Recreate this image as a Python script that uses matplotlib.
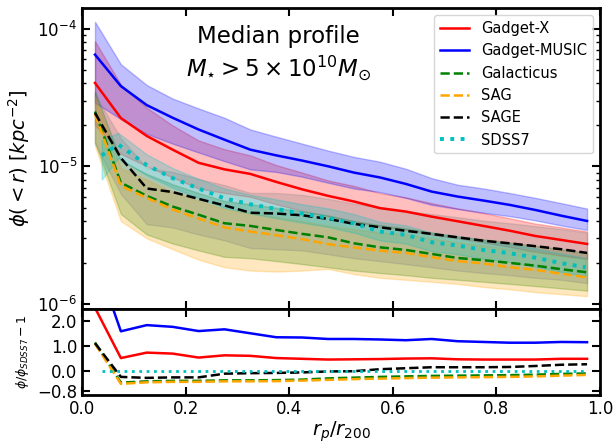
import numpy as np
import matplotlib
matplotlib.use("Agg")
import matplotlib.pyplot as plt

# bin centres in r_p / r_200
rp = [0.025, 0.075, 0.125, 0.175, 0.225, 0.275, 0.325, 0.375, 0.425, 0.475,
      0.525, 0.575, 0.625, 0.675, 0.725, 0.775, 0.825, 0.875, 0.925, 0.975]
rp_sdss = [0.038, 0.07, 0.125, 0.175, 0.225, 0.275, 0.325, 0.375, 0.425, 0.475,
           0.525, 0.575, 0.625, 0.675, 0.725, 0.775, 0.825, 0.875, 0.925, 0.972]

# median profiles [kpc^-2]
gx_med = [4.03e-5, 2.24e-5, 1.66e-5, 1.32e-5, 1.06e-5, 9.5e-6, 8.8e-6, 7.7e-6, 6.8e-6, 6.1e-6,
          5.55e-6, 4.97e-6, 4.69e-6, 4.31e-6, 3.99e-6, 3.69e-6, 3.41e-6, 3.12e-6, 2.92e-6, 2.73e-6]
gx_hi = [8.1e-5, 3.92e-5, 2.66e-5, 1.98e-5, 1.54e-5, 1.33e-5, 1.2e-5, 1.02e-5, 9.0e-6, 7.9e-6,
         7.2e-6, 6.4e-6, 5.95e-6, 5.4e-6, 4.95e-6, 4.58e-6, 4.2e-6, 3.84e-6, 3.6e-6, 3.36e-6]
gx_lo = [2.0e-5, 1.23e-5, 1.0e-5, 8.3e-6, 6.9e-6, 6.4e-6, 6.0e-6, 5.3e-6, 4.75e-6, 4.33e-6,
         4.0e-6, 3.63e-6, 3.47e-6, 3.19e-6, 3.0e-6, 2.8e-6, 2.6e-6, 2.4e-6, 2.25e-6, 2.13e-6]

gm_med = [6.47e-5, 3.82e-5, 2.78e-5, 2.25e-5, 1.85e-5, 1.56e-5, 1.32e-5, 1.2e-5, 1.1e-5, 1.0e-5,
          9.0e-6, 8.3e-6, 7.45e-6, 6.55e-6, 6.03e-6, 5.64e-6, 5.25e-6, 4.82e-6, 4.38e-6, 4.01e-6]
gm_hi = [1.12e-4, 5.5e-5, 3.89e-5, 3.1e-5, 2.63e-5, 2.25e-5, 1.85e-5, 1.64e-5, 1.46e-5, 1.3e-5,
         1.17e-5, 1.08e-5, 9.6e-6, 8.2e-6, 7.35e-6, 6.9e-6, 6.4e-6, 5.9e-6, 5.4e-6, 4.93e-6]
gm_lo = [2.9e-5, 2.2e-5, 1.72e-5, 1.46e-5, 1.26e-5, 1.09e-5, 9.5e-6, 9.1e-6, 8.4e-6, 7.6e-6,
         6.9e-6, 6.5e-6, 5.9e-6, 5.25e-6, 4.9e-6, 4.6e-6, 4.35e-6, 4.05e-6, 3.72e-6, 3.45e-6]

gal_med = [2.5e-5, 7.6e-6, 6.1e-6, 5.1e-6, 4.45e-6, 3.86e-6, 3.69e-6, 3.45e-6, 3.23e-6, 3.05e-6,
           2.76e-6, 2.58e-6, 2.47e-6, 2.31e-6, 2.16e-6, 2.08e-6, 1.99e-6, 1.9e-6, 1.79e-6, 1.7e-6]
gal_hi = [3.5e-5, 1.1e-5, 8.8e-6, 7.4e-6, 6.4e-6, 5.6e-6, 5.3e-6, 5.0e-6, 4.7e-6, 4.4e-6,
          4.0e-6, 3.75e-6, 3.55e-6, 3.3e-6, 3.1e-6, 2.95e-6, 2.8e-6, 2.65e-6, 2.5e-6, 2.35e-6]
gal_lo = [1.5e-5, 4.5e-6, 3.2e-6, 2.75e-6, 2.45e-6, 2.2e-6, 2.15e-6, 2.05e-6, 1.95e-6, 1.85e-6,
          1.75e-6, 1.68e-6, 1.62e-6, 1.55e-6, 1.5e-6, 1.45e-6, 1.4e-6, 1.35e-6, 1.3e-6, 1.25e-6]

sag_med = [2.4e-5, 7.2e-6, 5.9e-6, 4.85e-6, 4.18e-6, 3.6e-6, 3.36e-6, 3.16e-6, 2.96e-6, 2.72e-6,
           2.58e-6, 2.44e-6, 2.35e-6, 2.19e-6, 2.05e-6, 1.97e-6, 1.85e-6, 1.77e-6, 1.66e-6, 1.56e-6]
sag_hi = [3.2e-5, 9.7e-6, 8.0e-6, 6.5e-6, 5.6e-6, 4.9e-6, 4.55e-6, 4.3e-6, 4.0e-6, 3.7e-6,
          3.5e-6, 3.3e-6, 3.2e-6, 3.0e-6, 2.8e-6, 2.67e-6, 2.5e-6, 2.4e-6, 2.25e-6, 2.1e-6]
sag_lo = [1.4e-5, 4.0e-6, 3.0e-6, 2.5e-6, 2.1e-6, 1.85e-6, 1.75e-6, 1.72e-6, 1.75e-6, 1.8e-6,
          1.65e-6, 1.55e-6, 1.5e-6, 1.45e-6, 1.4e-6, 1.33e-6, 1.28e-6, 1.22e-6, 1.18e-6, 1.14e-6]

sage_med = [2.44e-5, 1.15e-5, 6.9e-6, 6.5e-6, 5.8e-6, 5.2e-6, 4.6e-6, 4.54e-6, 4.41e-6, 4.15e-6,
            3.82e-6, 3.61e-6, 3.4e-6, 3.23e-6, 3.05e-6, 2.88e-6, 2.76e-6, 2.63e-6, 2.5e-6, 2.35e-6]
sage_hi = [3.3e-5, 1.6e-5, 9.7e-6, 9.1e-6, 8.1e-6, 7.3e-6, 6.4e-6, 6.4e-6, 6.2e-6, 5.8e-6,
           5.35e-6, 5.05e-6, 4.76e-6, 4.5e-6, 4.27e-6, 4.03e-6, 3.86e-6, 3.68e-6, 3.5e-6, 3.3e-6]
sage_lo = [1.46e-5, 6.3e-6, 3.8e-6, 3.6e-6, 3.2e-6, 2.9e-6, 2.55e-6, 2.5e-6, 2.45e-6, 2.3e-6,
           2.15e-6, 2.05e-6, 1.95e-6, 1.85e-6, 1.75e-6, 1.68e-6, 1.62e-6, 1.55e-6, 1.5e-6, 1.42e-6]

sdss_med = [1.2e-5, 1.44e-5, 1.02e-5, 8.2e-6, 6.9e-6, 5.85e-6, 5.3e-6, 4.9e-6, 4.54e-6, 4.22e-6,
            3.85e-6, 3.36e-6, 3.18e-6, 2.81e-6, 2.66e-6, 2.47e-6, 2.34e-6, 2.17e-6, 1.98e-6, 1.85e-6]
sdss_hi = [1.55e-5, 1.75e-5, 1.22e-5, 9.7e-6, 8.1e-6, 6.9e-6, 6.2e-6, 5.75e-6, 5.3e-6, 4.95e-6,
           4.5e-6, 3.95e-6, 3.72e-6, 3.3e-6, 3.1e-6, 2.9e-6, 2.73e-6, 2.53e-6, 2.32e-6, 2.16e-6]
sdss_lo = [8.0e-6, 1.15e-5, 8.6e-6, 7.0e-6, 5.9e-6, 5.0e-6, 4.55e-6, 4.2e-6, 3.9e-6, 3.63e-6,
           3.3e-6, 2.9e-6, 2.75e-6, 2.42e-6, 2.3e-6, 2.13e-6, 2.02e-6, 1.87e-6, 1.71e-6, 1.6e-6]

# phi / phi_SDSS7 - 1
gx_rat = [2.55, 0.52, 0.74, 0.70, 0.54, 0.63, 0.61, 0.52, 0.49, 0.46,
          0.47, 0.48, 0.50, 0.51, 0.47, 0.46, 0.46, 0.46, 0.49, 0.49]
gm_rat = [4.6, 1.60, 1.85, 1.78, 1.61, 1.68, 1.52, 1.36, 1.35, 1.29,
          1.29, 1.27, 1.24, 1.29, 1.20, 1.17, 1.14, 1.14, 1.17, 1.16]
gal_rat = [1.15, -0.47, -0.42, -0.40, -0.40, -0.38, -0.38, -0.37, -0.35, -0.30,
           -0.27, -0.24, -0.22, -0.20, -0.19, -0.18, -0.17, -0.15, -0.12, -0.10]
sag_rat = [1.10, -0.52, -0.46, -0.44, -0.44, -0.42, -0.42, -0.41, -0.39, -0.36,
           -0.33, -0.31, -0.29, -0.27, -0.26, -0.25, -0.24, -0.22, -0.19, -0.16]
sage_rat = [1.12, -0.24, -0.28, -0.26, -0.26, -0.11, -0.09, -0.08, -0.06, -0.02,
            -0.01, 0.07, 0.11, 0.15, 0.15, 0.15, 0.16, 0.20, 0.25, 0.27]
sdss_rat = np.array(sdss_med) / np.array(sdss_med) - 1

fig = plt.figure(figsize=(6.14, 4.45), dpi=100)
ax = fig.add_axes([0.1336, 0.3056, 0.8436, 0.6764])
ax2 = fig.add_axes([0.1336, 0.1124, 0.8436, 0.1932], sharex=ax)

al = 0.25
ax.fill_between(rp, gx_lo, gx_hi, color='r', alpha=al)
ax.fill_between(rp, gm_lo, gm_hi, color='b', alpha=al)
ax.fill_between(rp, gal_lo, gal_hi, color='g', alpha=al)
ax.fill_between(rp, sag_lo, sag_hi, color='orange', alpha=al)
ax.fill_between(rp, sage_lo, sage_hi, color='gray', alpha=al)
ax.fill_between(rp_sdss, sdss_lo, sdss_hi, color='c', alpha=al)

ax.plot(rp, gx_med, 'r-', lw=1.8, label='Gadget-X')
ax.plot(rp, gm_med, 'b-', lw=1.8, label='Gadget-MUSIC')
ax.plot(rp, gal_med, 'g--', lw=1.8, label='Galacticus')
ax.plot(rp, sag_med, '--', color='orange', lw=1.8, label='SAG')
ax.plot(rp, sage_med, 'k--', lw=1.8, label='SAGE')
ax.plot(rp_sdss, sdss_med, 'c:', lw=2.8, label='SDSS7')

ax.set_yscale('log')
ax.set_ylim(9.2e-7, 1.41e-4)
ax.set_xlim(0, 1)
ax.set_ylabel(r'$\phi(<r)\ [kpc^{-2}]$', fontsize=14)
ax.legend(loc='upper right', fontsize=10.5)
ax.text(0.38, 0.905, 'Median profile', transform=ax.transAxes, ha='center', va='center', fontsize=16.5)
ax.text(0.38, 0.80, r'$M_{\star} > 5\times10^{10}M_{\odot}$', transform=ax.transAxes,
        ha='center', va='center', fontsize=16.5)
plt.setp(ax.get_xticklabels(), visible=False)

ax2.plot(rp, gx_rat, 'r-', lw=1.8)
ax2.plot(rp, gm_rat, 'b-', lw=1.8)
ax2.plot(rp, gal_rat, 'g--', lw=1.8)
ax2.plot(rp, sag_rat, '--', color='orange', lw=1.8)
ax2.plot(rp, sage_rat, 'k--', lw=1.8)
ax2.plot(rp_sdss, sdss_rat, 'c:', lw=2)
ax2.set_ylim(-0.97, 2.5)
ax2.set_yticks([-0.8, 0.0, 1.0, 2.0])
ax2.set_yticklabels(['−0.8', '0.0', '1.0', '2.0'])
ax2.set_xticks([0.0, 0.2, 0.4, 0.6, 0.8, 1.0])
ax2.set_xlabel(r'$r_p/r_{200}$', fontsize=14, labelpad=1)
ax2.set_ylabel(r'$\phi/\phi_{SDSS7}-1$', fontsize=9)

for a in [ax, ax2]:
    a.tick_params(which='both', direction='in', top=True, right=True, labelsize=12)
    a.tick_params(which='major', length=6, width=1.5)
    a.tick_params(which='minor', length=3, width=1)
    for s in a.spines.values():
        s.set_linewidth(2)

fig.savefig('out.png', dpi=100)
